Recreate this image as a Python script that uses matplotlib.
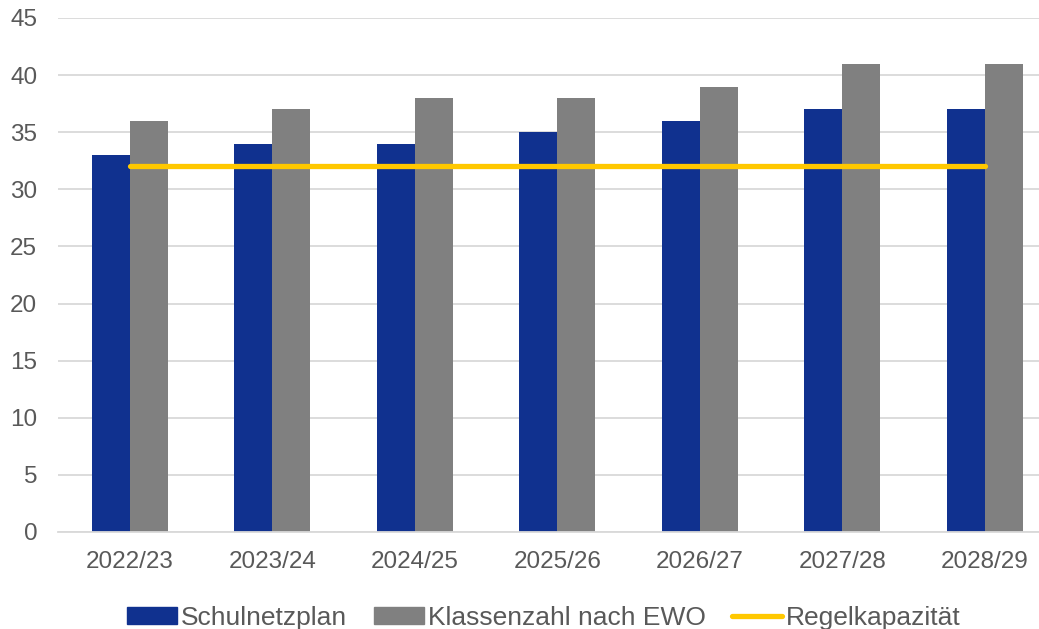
import matplotlib.pyplot as plt
import numpy as np
from matplotlib.patches import Patch
from matplotlib.lines import Line2D

# Daten
jahre = ['2022/23', '2023/24', '2024/25', '2025/26', '2026/27', '2027/28', '2028/29']
schulnetzplan = [33, 34, 34, 35, 36, 37, 37]
klassenzahl_ewo = [36, 37, 38, 38, 39, 41, 41]
regelkapazitaet = [32, 32, 32, 32, 32, 32, 32]

navy = '#10318F'
grau = '#808080'
gelb = '#FFC800'
textfarbe = '#595959'

plt.rcParams['font.family'] = ['Liberation Sans', 'DejaVu Sans']

fig = plt.figure(figsize=(10.39, 6.29), dpi=100)
ax = fig.add_axes([58 / 1039, (629 - 532) / 629, 1 - 58 / 1039, (532 - 18) / 629])

x = np.arange(len(jahre))
b = 0.267
ax.bar(x - b / 2, schulnetzplan, width=b, color=navy, zorder=2)
ax.bar(x + b / 2, klassenzahl_ewo, width=b, color=grau, zorder=2)
ax.plot(x, regelkapazitaet, color=gelb, linewidth=3.8, solid_capstyle='round', zorder=3)

ax.set_ylim(0, 45)
ax.set_yticks(range(0, 46, 5))
ax.set_xlim(-0.505, 6.38)
ax.set_xticks(x)
ax.set_xticklabels(jahre)
ax.grid(axis='y', color='#D9D9D9', linewidth=1.3, zorder=0)
for s in ['top', 'right', 'left']:
    ax.spines[s].set_visible(False)
ax.spines['bottom'].set_color('#D9D9D9')
ax.spines['bottom'].set_linewidth(1.3)
ax.tick_params(axis='both', length=0, labelsize=17.5, labelcolor=textfarbe)
ax.tick_params(axis='x', pad=14)
ax.tick_params(axis='y', pad=15)

handles = [Patch(color=navy, label='Schulnetzplan'),
           Patch(color=grau, label='Klassenzahl nach EWO'),
           Line2D([0], [0], color=gelb, linewidth=3.8, solid_capstyle='round', label='Regelkapazität')]
fig.legend(handles=handles, loc='center', bbox_to_anchor=(544 / 1039, 1 - 618 / 629),
           ncol=3, frameon=False, fontsize=19, labelcolor=textfarbe,
           handlelength=1.9, handleheight=0.6, handletextpad=0.15, columnspacing=1.0)

fig.savefig('out.png', dpi=100)
